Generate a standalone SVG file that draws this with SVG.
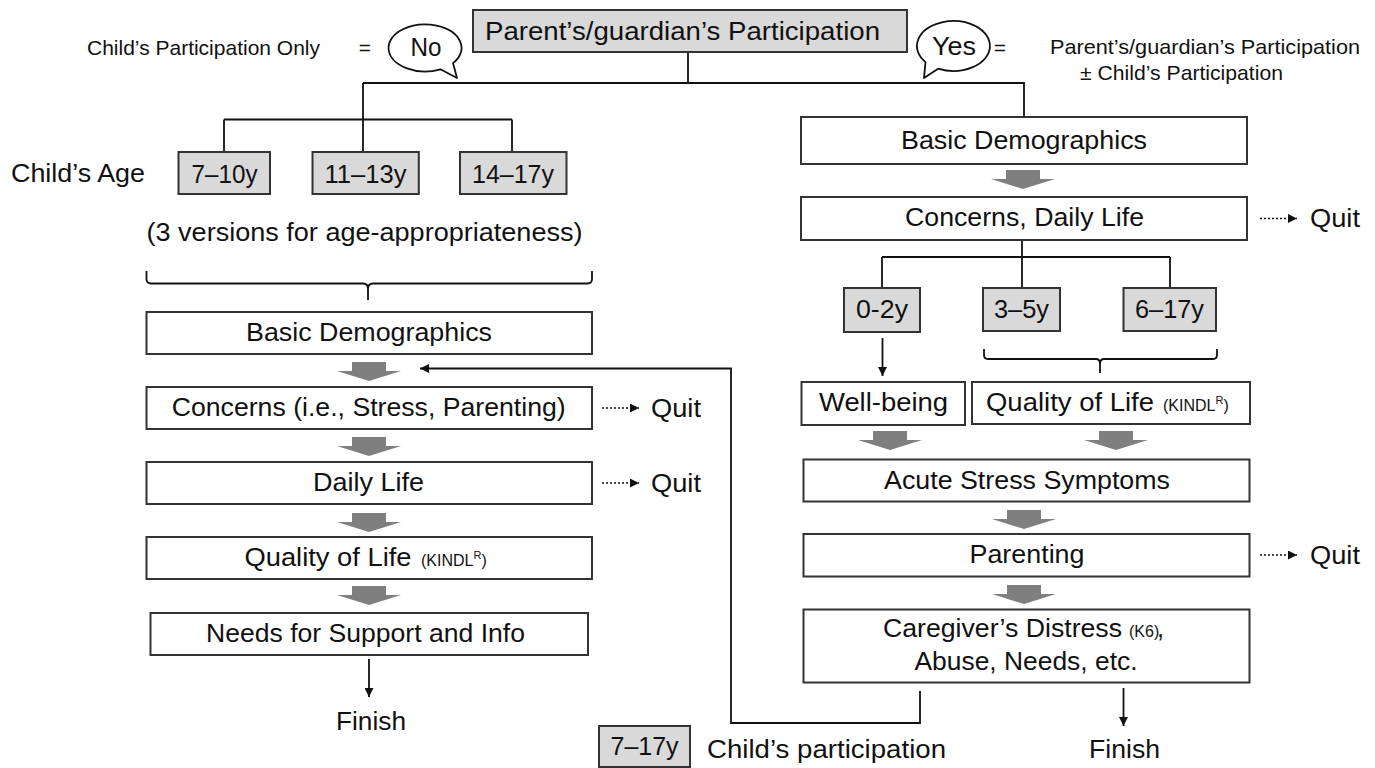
<svg xmlns="http://www.w3.org/2000/svg" width="1375" height="768" viewBox="0 0 1375 768">
<style>
text{font-family:"Liberation Sans",Arial,sans-serif;fill:#111}
.lg{font-size:25px}
.md{font-size:21px}
.sm{font-size:16px}
.c{text-anchor:middle}
.box{fill:#fff;stroke:#333;stroke-width:2}
.gbox{fill:#d9d9d9;stroke:#333;stroke-width:2}
.ln{fill:none;stroke:#111;stroke-width:1.8}
.dot{fill:none;stroke:#111;stroke-width:1.5;stroke-dasharray:2 2}
.bub{fill:#fff;stroke:#111;stroke-width:1.8;stroke-linejoin:round}
.ga{fill:#7f7f7f}
</style>
<defs>
<marker id="ah" viewBox="0 0 10 10" refX="10" refY="5" markerWidth="9" markerHeight="9" markerUnits="userSpaceOnUse" orient="auto"><path d="M0 0 L10 5 L0 10 Z" fill="#111"/></marker>
<path id="gar" d="M-17 0 H17 V9 H32 L0 19 L-32 9 H-17 Z"/>
</defs>

<g id="connectors">
<path class="ln" d="M688 52 V83 M363 83 H1024 V117 M363 83 V152 M224 119.5 H512 M224 119.5 V152 M512 119.5 V152"/>
<path class="ln" d="M146.5 271 V279 Q146.5 283.5 151 283.5 H363 Q368 283.5 368 289 V300 M368 289 Q368 283.5 373 283.5 H587.5 Q592 283.5 592 279 V271"/>
<path class="ln" d="M1022 240 V288 M882 257 H1170 M882 257 V288 M1170 257 V288"/>
<path class="ln" d="M984 349 V355 Q984 359 988 359 H1096 Q1100 359 1100 364 V373 M1100 364 Q1100 359 1104 359 H1213 Q1217 359 1217 355 V349"/>
<path class="ln" d="M882.5 338 V376" marker-end="url(#ah)"/>
<path class="ln" d="M369 659 V697" marker-end="url(#ah)"/>
<path class="ln" d="M1123.5 688 V726" marker-end="url(#ah)"/>
<path class="ln" d="M920 691 V723 H731 V368.5 H420" marker-end="url(#ah)"/>
<path class="dot" d="M602 408 H639" marker-end="url(#ah)"/>
<path class="dot" d="M602 483 H639" marker-end="url(#ah)"/>
<path class="dot" d="M1260 218.5 H1297" marker-end="url(#ah)"/>
<path class="dot" d="M1260 555 H1297" marker-end="url(#ah)"/>
<use href="#gar" class="ga" x="369" y="362"/>
<use href="#gar" class="ga" x="369" y="437"/>
<use href="#gar" class="ga" x="369" y="513"/>
<use href="#gar" class="ga" x="369" y="586"/>
<use href="#gar" class="ga" x="1023" y="170"/>
<use href="#gar" class="ga" x="890" y="431"/>
<use href="#gar" class="ga" x="1116" y="431"/>
<use href="#gar" class="ga" x="1024" y="510"/>
<use href="#gar" class="ga" x="1024" y="585"/>
</g>

<g id="header-left">
<text class="md c" x="203.5" y="55" textLength="233" lengthAdjust="spacingAndGlyphs">Child’s Participation Only</text>
<text class="md c" x="365" y="55">=</text>
</g>
<g id="bubble-no">
<path class="bub" d="M440.4 69.3 A36.5 23.5 0 1 1 453 63.1 L457 78 Z"/>
<text class="lg c" x="426" y="56" textLength="31" lengthAdjust="spacingAndGlyphs">No</text>
</g>
<g id="parent-participation">
<rect class="gbox" x="473" y="10" width="434" height="42"/>
<text class="lg c" x="682.5" y="40" textLength="395" lengthAdjust="spacingAndGlyphs">Parent’s/guardian’s Participation</text>
</g>
<g id="bubble-yes">
<path class="bub" d="M925.5 62.1 A36.5 25 0 1 1 938.1 68.7 L924 78 Z"/>
<text class="lg c" x="954" y="55" textLength="44" lengthAdjust="spacingAndGlyphs">Yes</text>
</g>
<g id="header-right">
<text class="md c" x="1000" y="55">=</text>
<text class="md c" x="1205" y="54" textLength="310" lengthAdjust="spacingAndGlyphs">Parent’s/guardian’s Participation</text>
<text class="md c" x="1181.5" y="80" textLength="203" lengthAdjust="spacingAndGlyphs">± Child’s Participation</text>
</g>

<g id="childs-age">
<text class="lg" x="11" y="182" textLength="134" lengthAdjust="spacingAndGlyphs">Child’s Age</text>
</g>
<g id="age-7-10">
<rect class="gbox" x="178.5" y="152" width="91.5" height="42"/>
<text class="lg c" x="224.5" y="183" textLength="66" lengthAdjust="spacingAndGlyphs">7–10y</text>
</g>
<g id="age-11-13">
<rect class="gbox" x="312.5" y="152" width="106.3" height="42"/>
<text class="lg c" x="365.5" y="183" textLength="82" lengthAdjust="spacingAndGlyphs">11–13y</text>
</g>
<g id="age-14-17">
<rect class="gbox" x="460" y="152" width="106.5" height="42"/>
<text class="lg c" x="513" y="183" textLength="82" lengthAdjust="spacingAndGlyphs">14–17y</text>
</g>
<g id="versions-note">
<text class="lg c" x="364.5" y="241" textLength="436" lengthAdjust="spacingAndGlyphs">(3 versions for age-appropriateness)</text>
</g>

<g id="l-basic">
<rect class="box" x="146.5" y="312" width="445.5" height="42"/>
<text class="lg c" x="369" y="341" textLength="246" lengthAdjust="spacingAndGlyphs">Basic Demographics</text>
</g>
<g id="l-concerns">
<rect class="box" x="146.5" y="387" width="445.5" height="42"/>
<text class="lg c" x="368.7" y="416" textLength="394" lengthAdjust="spacingAndGlyphs">Concerns (i.e., Stress, Parenting)</text>
</g>
<g id="l-quit1"><text class="lg" x="651" y="417" textLength="50" lengthAdjust="spacingAndGlyphs">Quit</text></g>
<g id="l-daily">
<rect class="box" x="146.5" y="462" width="445.5" height="42"/>
<text class="lg c" x="368.5" y="491" textLength="111" lengthAdjust="spacingAndGlyphs">Daily Life</text>
</g>
<g id="l-quit2"><text class="lg" x="651" y="492" textLength="50" lengthAdjust="spacingAndGlyphs">Quit</text></g>
<g id="l-qol">
<rect class="box" x="146.5" y="537" width="445.5" height="42"/>
<text class="lg" x="244.5" y="566" textLength="167" lengthAdjust="spacingAndGlyphs">Quality of Life</text>
<text class="sm" x="421" y="566">(KINDL<tspan font-size="11" dy="-7">R</tspan><tspan dy="7">)</tspan></text>
</g>
<g id="l-needs">
<rect class="box" x="150.5" y="613" width="437.5" height="42"/>
<text class="lg c" x="365.5" y="642" textLength="319" lengthAdjust="spacingAndGlyphs">Needs for Support and Info</text>
</g>
<g id="l-finish"><text class="lg" x="336" y="730" textLength="70" lengthAdjust="spacingAndGlyphs">Finish</text></g>

<g id="r-basic">
<rect class="box" x="801" y="117" width="446" height="47"/>
<text class="lg c" x="1024" y="149" textLength="246" lengthAdjust="spacingAndGlyphs">Basic Demographics</text>
</g>
<g id="r-concerns">
<rect class="box" x="801" y="197" width="446" height="43"/>
<text class="lg c" x="1024.5" y="226" textLength="239" lengthAdjust="spacingAndGlyphs">Concerns, Daily Life</text>
</g>
<g id="r-quit1"><text class="lg" x="1310" y="227" textLength="50" lengthAdjust="spacingAndGlyphs">Quit</text></g>
<g id="age-0-2">
<rect class="gbox" x="844" y="288" width="76" height="44"/>
<text class="lg c" x="882" y="318" textLength="52" lengthAdjust="spacingAndGlyphs">0-2y</text>
</g>
<g id="age-3-5">
<rect class="gbox" x="983" y="288" width="77" height="43"/>
<text class="lg c" x="1021.5" y="318" textLength="55" lengthAdjust="spacingAndGlyphs">3–5y</text>
</g>
<g id="age-6-17">
<rect class="gbox" x="1123.5" y="288" width="92.5" height="43"/>
<text class="lg c" x="1169.5" y="318" textLength="69" lengthAdjust="spacingAndGlyphs">6–17y</text>
</g>
<g id="r-wellbeing">
<rect class="box" x="801.5" y="382" width="163.5" height="43"/>
<text class="lg c" x="883.5" y="411" textLength="129" lengthAdjust="spacingAndGlyphs">Well-being</text>
</g>
<g id="r-qol">
<rect class="box" x="972" y="382" width="278" height="42"/>
<text class="lg" x="986" y="411" textLength="168" lengthAdjust="spacingAndGlyphs">Quality of Life</text>
<text class="sm" x="1163" y="411">(KINDL<tspan font-size="11" dy="-7">R</tspan><tspan dy="7">)</tspan></text>
</g>
<g id="r-acute">
<rect class="box" x="803.5" y="459.5" width="446" height="42"/>
<text class="lg c" x="1027" y="489" textLength="286" lengthAdjust="spacingAndGlyphs">Acute Stress Symptoms</text>
</g>
<g id="r-parenting">
<rect class="box" x="803.5" y="534" width="446" height="42.5"/>
<text class="lg c" x="1027" y="563" textLength="115" lengthAdjust="spacingAndGlyphs">Parenting</text>
</g>
<g id="r-quit2"><text class="lg" x="1310" y="564" textLength="50" lengthAdjust="spacingAndGlyphs">Quit</text></g>
<g id="r-caregiver">
<rect class="box" x="803.5" y="609.5" width="446" height="73"/>
<text class="lg" x="883" y="637" textLength="239" lengthAdjust="spacingAndGlyphs">Caregiver’s Distress</text>
<text class="sm" x="1129" y="637">(K6)</text>
<text class="lg" x="1157" y="637">,</text>
<text class="lg c" x="1026" y="670" textLength="223" lengthAdjust="spacingAndGlyphs">Abuse, Needs, etc.</text>
</g>
<g id="r-finish"><text class="lg" x="1089" y="758" textLength="71" lengthAdjust="spacingAndGlyphs">Finish</text></g>
<g id="age-7-17">
<rect class="gbox" x="599" y="726" width="91" height="41"/>
<text class="lg c" x="644.5" y="755" textLength="68" lengthAdjust="spacingAndGlyphs">7–17y</text>
</g>
<g id="child-participation">
<text class="lg" x="707" y="758" textLength="239" lengthAdjust="spacingAndGlyphs">Child’s participation</text>
</g>
</svg>
